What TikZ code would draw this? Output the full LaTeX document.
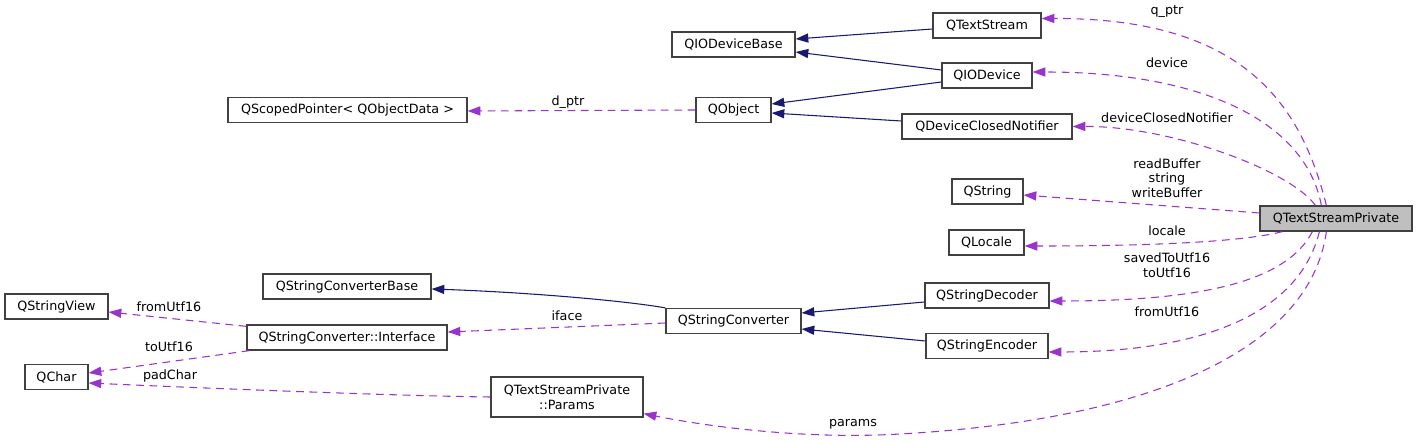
\documentclass[tikz,border=0pt]{standalone}
\usepackage{fontspec}
\setmainfont{DejaVu Sans}
\usetikzlibrary{arrows.meta,calc}
\definecolor{inhc}{HTML}{191970}
\definecolor{memc}{HTML}{9A32CD}
\definecolor{bord}{HTML}{404040}
\definecolor{hl}{HTML}{BFBFBF}
\begin{document}
\begin{tikzpicture}[x=0.75pt,y=-0.75pt,
  font=\fontsize{9.55}{10.9}\selectfont,
  cls/.style={draw=bord, line width=0.95pt, fill=white, inner sep=0pt,
    minimum height=18.75pt, align=center},
  tipa/.style={-{Triangle[length=9.5pt,width=6.8pt]}},
  inh/.style={draw=inhc, line width=0.8pt, tipa},
  mem/.style={draw=memc, line width=0.8pt, dash pattern=on 5.8pt off 4.2pt, tipa},
  lbl/.style={inner sep=0pt, align=center}]
\useasboundingbox (0,0) rectangle (1417,441);

% classes
\node[cls, minimum width=81pt]    (ts)  at (987,25.5)   {QTextStream};
\node[cls, minimum width=92.25pt] (iob) at (733.5,44.5) {QIODeviceBase};
\node[cls, minimum width=67.5pt]  (iod) at (987,75.5)   {QIODevice};
\node[cls, minimum width=179.25pt](sp)  at (347.5,110)  {QScopedPointer< QObjectData >};
\node[cls, minimum width=56.25pt] (obj) at (733.5,110)  {QObject};
\node[cls, minimum width=127.5pt] (dcn) at (987,126.5)  {QDeviceClosedNotifier};
\node[cls, minimum width=53.25pt] (str) at (987.5,191.5){QString};
\node[cls, minimum width=114pt, fill=hl] (tsp) at (1336,218.5) {QTextStreamPrivate};
\node[cls, minimum width=56.25pt] (loc) at (986.5,242.5){QLocale};
\node[cls, minimum width=126pt]   (scb) at (347,286.5)  {QStringConverterBase};
\node[cls, minimum width=77.25pt] (sv)  at (56.5,306.5) {QStringView};
\node[cls, minimum width=93pt]    (dec) at (987,295.5)  {QStringDecoder};
\node[cls, minimum width=101.25pt](sc)  at (733.5,321)  {QStringConverter};
\node[cls, minimum width=150pt]   (ifc) at (347,337.5)  {QStringConverter::Interface};
\node[cls, minimum width=91.5pt]  (enc) at (987,346)    {QStringEncoder};
\node[cls, minimum width=47.25pt] (qc)  at (56.5,377)   {QChar};
\node[cls, minimum width=114pt, minimum height=30pt] (par) at (567,397)
  {QTextStreamPrivate\\::Params};

% inheritance
\draw[inh] ($(ts.west)+(0,3.5)$) -- ($(iob.east)+(0,-5.5)$);
\draw[inh] ($(iod.west)+(0,-5.5)$) -- ($(iob.east)+(0,7.5)$);
\draw[inh] ($(iod.west)+(0,6.5)$) -- ($(obj.east)+(0,-6)$);
\draw[inh] ($(dcn.west)+(0,-5.5)$) -- ($(obj.east)+(0,3)$);
\draw[inh] (sc.north west) .. controls (620,300) and (520,292) .. ($(scb.east)+(0,2.5)$);
\draw[inh] ($(dec.west)+(0,6.5)$) -- ($(sc.east)+(0,-8)$);
\draw[inh] ($(enc.west)+(0,-5)$) -- ($(sc.east)+(0,8)$);

% members
\draw[mem] ($(tsp.north west)+(67,0)$) .. controls (1300,100) and (1240,18) .. ($(ts.east)+(0,-7)$);
\draw[mem] ($(tsp.north west)+(62,0)$) .. controls (1305,120) and (1200,72) .. ($(iod.east)+(0,-3.5)$);
\draw[mem] ($(tsp.north west)+(56,0)$) .. controls (1290,170) and (1170,126) .. (dcn.east);
\draw[mem] ($(tsp.west)+(0,-5.5)$) -- ($(str.east)+(0,3.5)$);
\draw[mem] ($(tsp.south west)+(23,0)$) .. controls (1230,245) and (1100,246) .. ($(loc.east)+(0,3.5)$);
\draw[mem] ($(tsp.south west)+(53,0)$) .. controls (1285,285) and (1190,301) .. ($(dec.east)+(0,5.5)$);
\draw[mem] ($(tsp.south west)+(60,0)$) .. controls (1300,310) and (1210,352) .. ($(enc.east)+(0,6)$);
\draw[mem] ($(tsp.south west)+(67,0)$) .. controls (1310,350) and (1150,420) .. (900,434)
  .. controls (800,440) and (700,425) .. ($(par.south east)+(0,-4)$);
\draw[mem] ($(sc.west)+(0,2)$) -- ($(ifc.east)+(0,-5.5)$);
\draw[mem] (obj.west) -- ($(sp.east)+(0,1)$);
\draw[mem] ($(ifc.north west)+(0,2)$) -- ($(sv.east)+(0,5.5)$);
\draw[mem] ($(ifc.south west)+(3,0)$) -- ($(qc.east)+(0,-4)$);
\draw[mem] (par.west) .. controls (400,396) and (200,388) .. ($(qc.east)+(0,6)$);

% labels
\node[lbl] (l1)  at (1167,12)  {q\_ptr};
\node[lbl] (l2)  at (1167,63)  {device};
\node[lbl] (l3)  at (1167,118) {deviceClosedNotifier};
\node[lbl] (l4)  at (1167,178) {readBuffer\\string\\writeBuffer};
\node[lbl] (l5)  at (1167,231) {locale};
\node[lbl] (l6)  at (1167,265.5) {savedToUtf16\\toUtf16};
\node[lbl] (l7)  at (1167,312) {fromUtf16};
\node[lbl] (l8)  at (853,424)  {params};
\node[lbl] (l9)  at (567,316)  {iface};
\node[lbl] (l10) at (568,102)  {d\_ptr};
\node[lbl] (l11) at (169,307)  {fromUtf16};
\node[lbl] (l12) at (169,347)  {toUtf16};
\node[lbl] (l13) at (170,376)  {padChar};
\end{tikzpicture}
\end{document}
